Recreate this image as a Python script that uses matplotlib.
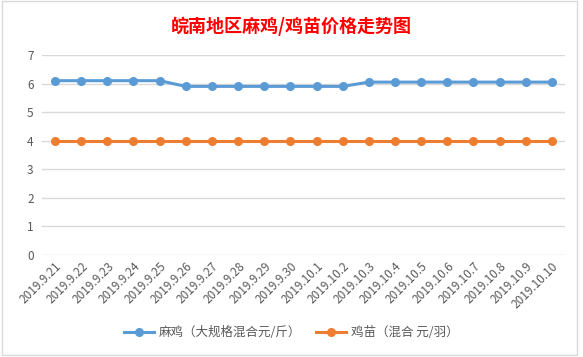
import matplotlib
matplotlib.use('Agg')
from matplotlib import pyplot as plt
from matplotlib.patches import Rectangle

plt.rcParams['font.family'] = ['Noto Sans CJK SC', 'DejaVu Sans']

dates = ['2019.9.21', '2019.9.22', '2019.9.23', '2019.9.24', '2019.9.25',
         '2019.9.26', '2019.9.27', '2019.9.28', '2019.9.29', '2019.9.30',
         '2019.10.1', '2019.10.2', '2019.10.3', '2019.10.4', '2019.10.5',
         '2019.10.6', '2019.10.7', '2019.10.8', '2019.10.9', '2019.10.10']
maji = [6.1, 6.1, 6.1, 6.1, 6.1,
        5.9, 5.9, 5.9, 5.9, 5.9, 5.9, 5.9,
        6.05, 6.05, 6.05, 6.05, 6.05, 6.05, 6.05, 6.05]
jimiao = [4] * 20

fig = plt.figure(figsize=(5.83, 3.57), dpi=100)
fig.patches.append(Rectangle((0.004, 0.006), 0.985, 0.99, transform=fig.transFigure,
                             fill=False, edgecolor='#D9D9D9', linewidth=1))
ax = fig.add_axes([0.072, 0.286, 0.897, 0.56])

x = list(range(len(dates)))
ax.plot(x, maji, color='#5B9BD5', linewidth=2.2, marker='o', markersize=5.5,
        label='麻鸡（大规格混合元/斤）', zorder=3)
ax.plot(x, jimiao, color='#ED7D31', linewidth=2.2, marker='o', markersize=5.5,
        label='鸡苗（混合 元/羽）', zorder=3)

ax.set_xlim(-0.5, len(dates) - 0.5)
ax.set_ylim(0, 7)
ax.set_yticks(range(0, 8))
ax.yaxis.grid(True, color='#D9D9D9', linewidth=1)
ax.set_axisbelow(True)
for s in ax.spines.values():
    s.set_visible(False)
ax.tick_params(axis='both', length=0, colors='#595959', labelsize=8.5)
ax.tick_params(axis='y', pad=6)
ax.set_xticks(x)
ax.set_xticklabels(dates, rotation=45, ha='right', rotation_mode='anchor')

fig.text(0.5, 0.925, '皖南地区麻鸡/鸡苗价格走势图', color='red', fontsize=13,
         fontweight='bold', ha='center', va='center')
fig.legend(loc='center', bbox_to_anchor=(0.5, 0.068), ncol=2, frameon=False,
           fontsize=9, labelcolor='#595959', handlelength=2.4, handletextpad=0.4,
           columnspacing=1.2)

fig.savefig('out.png', dpi=100)
